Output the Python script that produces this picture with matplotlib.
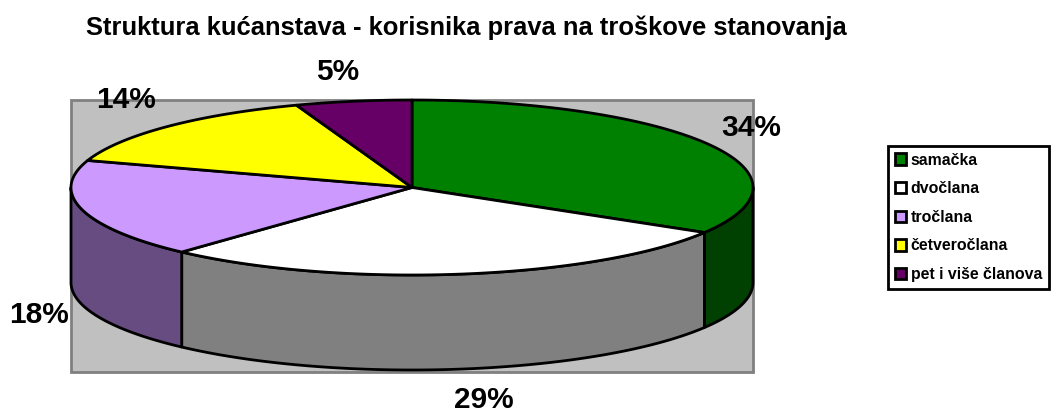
#!/usr/bin/env python3

import numpy as np
import matplotlib

matplotlib.use("Agg")
import matplotlib.pyplot as plt
from matplotlib.patches import Patch, Polygon, Rectangle

TITLE = "Struktura kućanstava - korisnika prava na troškove stanovanja"
categories = ["samačka", "dvočlana", "tročlana", "četveročlana", "pet i više članova"]
shares = [33.6, 28.2, 18.2, 14.5, 5.5]
pct_labels = ["34%", "29%", "18%", "14%", "5%"]
top_colors = ["#008000", "#ffffff", "#cc99ff", "#ffff00", "#660066"]
side_colors = ["#004000", "#808080", "#664c80", "#808000", "#330033"]
label_pos = [(751, 128), (484, 400), (39, 315), (126, 100), (338, 72)]

CX, CY, RX, RY, DEPTH = 412, 187.5, 341, 87.5, 95
LW = 2.0


def arc(a0, a1):
    t = np.radians(np.linspace(a0, a1, 200))
    return CX + RX * np.cos(t), CY - RY * np.sin(t)


def main():
    plt.rcParams["font.family"] = ["Liberation Sans", "DejaVu Sans"]
    fig = plt.figure(figsize=(10.56, 4.12), dpi=100)
    ax = fig.add_axes([0, 0, 1, 1])
    ax.set_xlim(0, 1056)
    ax.set_ylim(412, 0)
    ax.axis("off")

    ax.add_patch(Rectangle((71, 100), 682, 272, fc="#c0c0c0", ec="#808080", lw=2))

    edges = 90 - np.cumsum([0] + shares) / sum(shares) * 360

    # side wall, only the part facing the viewer (angles 180..360)
    for i in range(len(shares)):
        lo, hi = max(edges[i + 1], -180), min(edges[i], 0)
        if lo >= hi:
            continue
        x, y = arc(lo, hi)
        pts = np.column_stack([np.r_[x, x[::-1]], np.r_[y, y[::-1] + DEPTH]])
        ax.add_patch(Polygon(pts, fc=side_colors[i], ec="black", lw=LW, joinstyle="round"))

    for i in range(len(shares)):
        x, y = arc(edges[i + 1], edges[i])
        pts = np.column_stack([np.r_[CX, x], np.r_[CY, y]])
        ax.add_patch(Polygon(pts, fc=top_colors[i], ec="black", lw=LW, joinstyle="round"))

    for (lx, ly), txt in zip(label_pos, pct_labels):
        ax.text(lx, ly, txt, fontsize=21.5, fontweight="bold", ha="center", va="center")

    ax.text(466, 28, TITLE, fontsize=18.4, fontweight="bold", ha="center", va="center")

    handles = [Patch(fc=c, ec="black", lw=2) for c in top_colors]
    leg = ax.legend(
        handles,
        categories,
        loc="upper left",
        bbox_to_anchor=(888 / 1056, 1 - 146 / 412),
        borderaxespad=0,
        fancybox=False,
        framealpha=1,
        edgecolor="black",
        prop={"size": 11.4, "weight": "bold"},
        handlelength=0.72,
        handleheight=0.72,
        handletextpad=0.3,
        labelspacing=0.86,
        borderpad=0.42,
    )
    leg.get_frame().set_linewidth(2)

    fig.savefig("out.png", dpi=100)


if __name__ == "__main__":
    main()
